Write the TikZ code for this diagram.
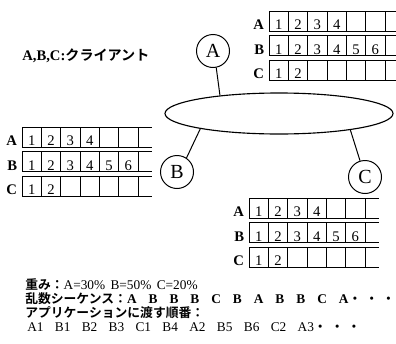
\documentclass[tikz,border=0pt]{standalone}
\usepackage{fontspec}
\setmainfont{Liberation Serif}
\newfontfamily\jpfont{Noto Sans CJK JP}[Scale=0.96, BoldFont={Noto Sans CJK JP Bold}]
\usetikzlibrary{shapes.geometric,positioning}

\newcommand{\jp}[1]{{\jpfont\bfseries #1}}

% one client buffer: #1 prefix, #2 x, #3 y of top row, #4 open tail
\newcommand{\clientqueue}[4]{%
  \foreach \row/\n [count=\k from 0] in {A/4,B/6,C/2}{
    \node[cell, anchor=north west] (#1\row1) at (#2, {#3+24.5*\k}) {1};
    \foreach \i [remember=\i as \j (initially 1)] in {2,...,6}{
      \node[cell, right=0pt of #1\row\j] (#1\row\i) {\ifnum\i>\n\relax\else\i\fi};
    }
    \node[rowlabel, anchor=base east] (#1\row) at ([xshift=-3.5pt]#1\row1.base west) {\row};
    \draw[cellline] (#1\row6.north east) -- ++(#4,0);
    \draw[cellline] (#1\row6.south east) -- ++(#4,0);
  }
}

\begin{document}
\begin{tikzpicture}[x=0.75pt, y=-0.75pt,
    client/.style={circle, draw, line width=0.75pt, minimum size=24.75pt, inner sep=0pt,
      font=\fontsize{15}{16}\selectfont},
    lan/.style={ellipse, draw, line width=0.85pt, minimum width=171pt, minimum height=30.75pt},
    cell/.style={rectangle, draw, line width=0.75pt, minimum width=14.5pt, inner xsep=0pt,
      inner ysep=0pt, outer sep=0pt, text height=14pt, text depth=1pt,
      font=\fontsize{11}{12}\selectfont},
    cellline/.style={line width=0.75pt},
    rowlabel/.style={inner sep=0pt, font=\bfseries\fontsize{11}{12}\selectfont},
    link/.style={line width=0.75pt},
    note/.style={anchor=base west, inner sep=0pt, font=\fontsize{10}{12}\selectfont}]
\useasboundingbox (0,0) rectangle (396,343);

\node[note, font=\fontsize{11}{12}\selectfont] (title) at (22,60) {\textbf{A,B,C:}\jp{クライアント}};

% network and clients
\node[lan] (lan) at (279,113.5) {};
\node[client] (A) at (213,51) {A};
\node[client] (B) at (177,172) {B};
\node[client] (C) at (365,177) {C};
\draw[link] (A.-79) -- (lan.163);
\draw[link] (B.56) -- (lan.191);
\draw[link] (C.107) -- (lan.347);

% buffers
\clientqueue{qa}{269}{11}{11}
\clientqueue{qb}{22}{127}{14}
\clientqueue{qc}{249}{198}{14}

% legend
\node[note] (weights) at (25,289) {\jp{重み：}A=30\%\hspace{4pt}B=50\%\hspace{4pt}C=20\%};
\node[note] (sequence) at (25,303) {\jp{乱数シーケンス：}\textbf{A\hspace{9pt}B\hspace{9pt}B\hspace{9pt}B\hspace{9pt}C\hspace{9pt}B\hspace{9pt}A\hspace{9pt}B\hspace{9pt}B\hspace{9pt}C\hspace{9pt}A}\jp{・\hspace{3pt}・\hspace{3pt}・}};
\node[note] (ordertitle) at (25,317) {\jp{アプリケーションに渡す順番：}};
\node[note] (order) at (27,331) {A1\hspace{8.5pt}B1\hspace{8.5pt}B2\hspace{8.5pt}B3\hspace{8.5pt}C1\hspace{8.5pt}B4\hspace{8.5pt}A2\hspace{8.5pt}B5\hspace{8.5pt}B6\hspace{8.5pt}C2\hspace{8.5pt}A3\jp{・\hspace{3pt}・\hspace{3pt}・}};
\end{tikzpicture}
\end{document}
